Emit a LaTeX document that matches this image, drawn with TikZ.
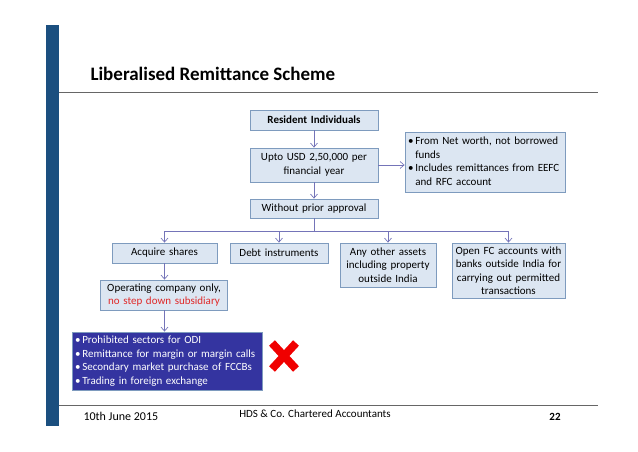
\documentclass[tikz,border=0pt]{standalone}
\usepackage{fontspec}
\setmainfont{Carlito}
\usetikzlibrary{arrows.meta,calc}

\definecolor{barblue}{HTML}{1B4F7F}
\definecolor{boxfill}{HTML}{DCE6F2}
\definecolor{boxline}{HTML}{7E9BBE}
\definecolor{arrowcol}{HTML}{7474B8}
\definecolor{darkbox}{HTML}{3434A0}
\definecolor{crossred}{HTML}{F00000}
\definecolor{notered}{HTML}{E02828}

\tikzset{
  box/.style={draw=boxline, fill=boxfill, line width=0.8pt, align=center,
    inner sep=3pt, font=\fontsize{11}{13.5}\selectfont},
  arr/.style={draw=arrowcol, line width=0.7pt, -{Straight Barb[length=4pt,width=7pt]}},
  bus/.style={draw=arrowcol, line width=0.7pt}
}

\newcommand{\bul}{\textbullet}

\begin{document}
\begin{tikzpicture}[x=1pt,y=1pt]
\useasboundingbox (0,0) rectangle (638,-452);

% slide frame
\fill[barblue] (46,-25) rectangle (59,-426);
\draw[gray!80!black, line width=0.8pt] (59,-92) -- (598,-92);
\draw[gray!80!black, line width=0.8pt] (59,-405) -- (598,-405);
\node[anchor=base west, font=\fontsize{19}{22}\selectfont\bfseries] (title) at (87,-81) {Liberalised Remittance Scheme};

% boxes
\node[box, minimum width=128pt, minimum height=20pt, text width=122pt, font=\fontsize{11}{13.5}\selectfont\bfseries] (resident) at (314,-120) {Resident Individuals};
\node[box, minimum width=128pt, minimum height=34pt, text width=122pt] (upto) at (314,-165) {Upto USD 2,50,000 per\\financial year};
\node[box, minimum width=128pt, minimum height=19pt, text width=122pt] (without) at (314,-208.5) {Without prior approval};
\node[box, minimum width=160pt, minimum height=55pt, text width=154pt, align=left] (note) at (485,-162.5) {%
  \begin{tabular}{@{}l@{\,}l@{}}
  \bul & From Net worth, not borrowed\\
       & funds\\
  \bul & Includes remittances from EEFC\\
       & and RFC account
  \end{tabular}};

\node[box, minimum width=105pt, minimum height=20pt, text width=99pt] (acquire) at (164.5,-253) {Acquire shares};
\node[box, minimum width=98pt, minimum height=20pt, text width=92pt] (debt) at (279,-253) {Debt instruments};
\node[box, minimum width=96pt, minimum height=44pt, text width=90pt] (assets) at (388,-265) {Any other assets\\including property\\outside India};
\node[box, minimum width=113pt, minimum height=55pt, text width=107pt] (openfc) at (508.5,-270.5) {Open FC accounts with\\banks outside India for\\carrying out permitted\\transactions};

\node[box, minimum width=127pt, minimum height=30pt, text width=121pt] (operating) at (164,-295) {Operating company only,\\\textcolor{notered}{no step down subsidiary}};

\node[box, draw=boxline, fill=darkbox, text=white, minimum width=190pt, minimum height=58pt, text width=184pt, align=left] (prohibited) at (167,-361) {%
  \bul\,Prohibited sectors for ODI\\
  \bul\,Remittance for margin or margin calls\\
  \bul\,Secondary market purchase of FCCBs\\
  \bul\,Trading in foreign exchange};

% red cross
\coordinate (cross) at (284,-356);
\draw[crossred, line width=8pt] ($(cross)+(-12,13)$) -- ($(cross)+(12,-13)$);
\draw[crossred, line width=8pt] ($(cross)+(-12,-13)$) -- ($(cross)+(12,13)$);

% connectors
\draw[arr] (resident.south) -- (upto.north);
\draw[arr] (upto.south) -- (without.north);
\draw[arr] (upto.east) -- (note.west |- upto.east);
\draw[bus] (without.south) -- ++(0,-13) coordinate (split);
\draw[bus] (split -| acquire) -- (split -| openfc);
\draw[arr] (split -| acquire) -- (acquire.north);
\draw[arr] (split -| debt) -- (debt.north);
\draw[arr] (split -| assets) -- (assets.north);
\draw[arr] (split -| openfc) -- (openfc.north);
\draw[arr] (acquire.south) -- (acquire.south |- operating.north);
\draw[arr] (operating.south -| acquire.south) -- (prohibited.north -| acquire.south);

% footer
\node[anchor=base west, font=\fontsize{12}{14}\selectfont] (date) at (80,-420) {10th June 2015};
\node[anchor=base, font=\fontsize{11}{13}\selectfont] (firm) at (315,-417) {HDS \& Co. Chartered Accountants};
\node[anchor=base, font=\fontsize{11}{13}\selectfont\bfseries] (page) at (555,-420) {22};
\end{tikzpicture}
\end{document}
